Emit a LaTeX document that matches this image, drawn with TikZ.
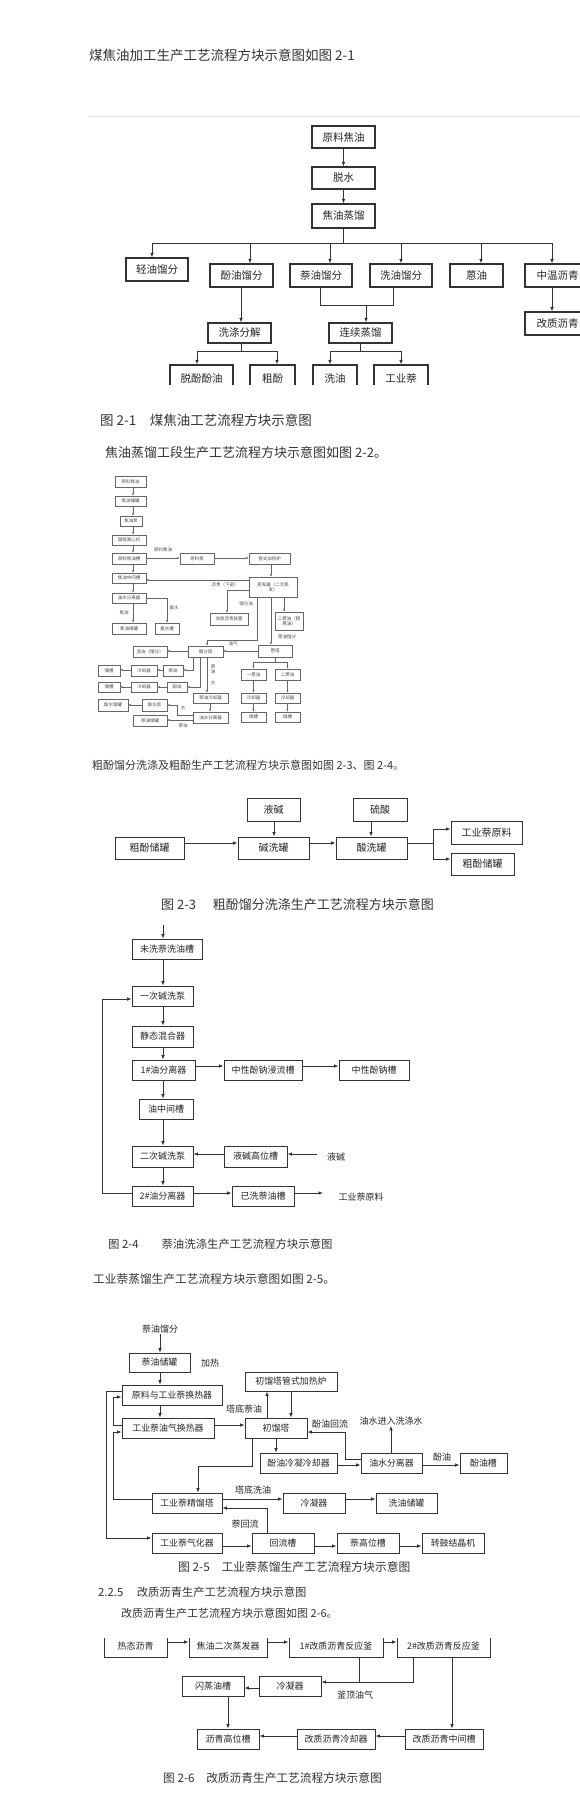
\documentclass[tikz,border=0pt]{standalone}
\usepackage{fontspec}
\setmainfont{Noto Sans CJK SC}
\usetikzlibrary{arrows.meta}
\newcommand\mybox[7]{%
  \pgfmathsetmacro\mbw{#5-#3}\pgfmathsetmacro\mbh{#6-#4}%
  \node[#1, minimum width=\mbw pt, minimum height=\mbh pt] (#2) at ({(#3+#5)/2},{(#4+#6)/2}) {#7};}
\tikzset{
 boxbase/.style={draw=black!80, line width=0.9pt, inner sep=0pt, text=black!85, align=center},
 s21/.style={boxbase, line width=1.1pt, font=\fontsize{10.5}{12}\selectfont},
 s22/.style={boxbase, line width=0.45pt, draw=black!60, text=black!70, font=\fontsize{4.5}{5.2}\selectfont},
 s23/.style={boxbase, line width=1pt, font=\fontsize{10}{12}\selectfont},
 s24/.style={boxbase, font=\fontsize{9}{11}\selectfont},
 s25/.style={boxbase, font=\fontsize{8.9}{11}\selectfont},
 s26/.style={boxbase, font=\fontsize{9}{11}\selectfont},
 lbl/.style={inner sep=0.5pt, text=black!85},
 l22/.style={lbl, text=black!70, font=\fontsize{4.5}{5.2}\selectfont, align=center},
 l24/.style={lbl, font=\fontsize{9}{11}\selectfont},
 hd/.style={anchor=west, inner sep=0pt, text=black!80},
 ln/.style={draw=black!80, line width=0.8pt},
 arr/.style={ln, -{Latex[length=4.5pt,width=3.6pt]}},
 lns/.style={draw=black!60, line width=0.45pt},
 arrs/.style={lns, -{Latex[length=2.4pt,width=2pt]}},
}
\begin{document}
\begin{tikzpicture}[x=1pt,y=-1pt]
\useasboundingbox (0,0) rectangle (580,1800);
\clip (0,0) rectangle (580,1800);
\fill[white] (0,0) rectangle (580,1800);

% ---------- headings ----------
\node[hd, font=\fontsize{13.5}{15}\selectfont] (T1) at (89,55) {煤焦油加工生产工艺流程方块示意图如图 2-1};
\draw[black!12, line width=0.8pt] (88,116) -- (580,116);
\node[hd, font=\fontsize{13.5}{15}\selectfont] (C1) at (100,420) {图 2-1\hspace{1em}煤焦油工艺流程方块示意图};
\node[hd, font=\fontsize{13}{15}\selectfont] (T2) at (105,453) {焦油蒸馏工段生产工艺流程方块示意图如图 2-2。};
\node[hd, font=\fontsize{11}{13}\selectfont] (T3) at (92,765) {粗酚馏分洗涤及粗酚生产工艺流程方块示意图如图 2-3、图 2-4。};
\node[hd, font=\fontsize{13}{15}\selectfont] (C3) at (161,905) {图 2-3\hspace{1.3em}粗酚馏分洗涤生产工艺流程方块示意图};
\node[hd, font=\fontsize{11.4}{13}\selectfont] (C4) at (108,1244) {图 2-4\hspace{2em}萘油洗涤生产工艺流程方块示意图};
\node[hd, font=\fontsize{11.7}{13}\selectfont] (T5) at (93,1279) {工业萘蒸馏生产工艺流程方块示意图如图 2-5。};
\node[hd, font=\fontsize{11.8}{13}\selectfont] (C5) at (178,1567) {图 2-5\hspace{1em}工业萘蒸馏生产工艺流程方块示意图};
\node[hd, font=\fontsize{11.3}{13}\selectfont] (H6) at (98,1592) {2.2.5\hspace{1.2em}改质沥青生产工艺流程方块示意图};
\node[hd, font=\fontsize{11}{13}\selectfont] (T6) at (121,1613) {改质沥青生产工艺流程方块示意图如图 2-6。};
\node[hd, font=\fontsize{11.7}{13}\selectfont] (C6) at (163,1778) {图 2-6\hspace{1em}改质沥青生产工艺流程方块示意图};

% ---------- Fig 2-1 ----------
\mybox{s21}{a1}{312}{126}{375}{148}{原料焦油}
\mybox{s21}{a2}{312}{167}{375}{189}{脱水}
\mybox{s21}{a3}{312}{204}{375}{228}{焦油蒸馏}
\mybox{s21}{b1}{126}{258}{188}{281}{轻油馏分}
\mybox{s21}{b2}{210}{264}{273}{287}{酚油馏分}
\mybox{s21}{b3}{290}{264}{352}{287}{萘油馏分}
\mybox{s21}{b4}{370}{264}{432}{287}{洗油馏分}
\mybox{s21}{b5}{450}{264}{503}{287}{蒽油}
\mybox{s21}{b6}{525}{264}{590}{287}{中温沥青}
\mybox{s21}{c1}{208}{323}{271}{343}{洗涤分解}
\mybox{s21}{c2}{329}{323}{392}{343}{连续蒸馏}
\mybox{s21}{c3}{525}{312}{590}{335}{改质沥青}
\begin{scope}
\clip (0,0) rectangle (580,384);
\mybox{s21}{d1}{170}{365}{233}{392}{脱酚酚油}
\mybox{s21}{d2}{250}{365}{295}{392}{粗酚}
\mybox{s21}{d3}{313}{365}{357}{392}{洗油}
\mybox{s21}{d4}{374}{365}{428}{392}{工业萘}
\end{scope}
\draw[arr] (a1) -- (a2);
\draw[arr] (a2) -- (a3);
\draw[ln] (a3.south) -- (343.5,243);
\draw[ln] (152,243) -- (552,243);
\draw[arr] (152,243) -- (152,0 |- b1.north);
\draw[arr] (250,243) -- (250,0 |- b2.north);
\draw[arr] (330,243) -- (330,0 |- b3.north);
\draw[arr] (401,243) -- (401,0 |- b4.north);
\draw[arr] (481,243) -- (481,0 |- b5.north);
\draw[arr] (552,243) -- (552,0 |- b6.north);
\draw[arr] (241,0 |- b2.south) -- (241,0 |- c1.north);
\draw[ln] (320,0 |- b3.south) |- (393,305) -- (393,0 |- b4.south);
\draw[arr] (366,305) -- (366,0 |- c2.north);
\draw[arr] (552,0 |- b6.south) -- (552,0 |- c3.north);
\draw[ln] (241,0 |- c1.south) -- (241,351);
\draw[ln] (197,351) -- (277,351);
\draw[arr] (197,351) -- (197,0 |- d1.north);
\draw[arr] (277,351) -- (277,0 |- d2.north);
\draw[ln] (360,0 |- c2.south) -- (360,351);
\draw[ln] (330,351) -- (401,351);
\draw[arr] (330,351) -- (330,0 |- d3.north);
\draw[arr] (401,351) -- (401,0 |- d4.north);

% ---------- Fig 2-2 ----------
\mybox{s22}{f1}{115}{476}{146}{487}{原料焦油}
\mybox{s22}{f2}{115}{496}{146}{506}{焦油储罐}
\mybox{s22}{f3}{120}{516}{142}{526}{焦油泵}
\mybox{s22}{f4}{112}{535}{146}{545}{超级离心机}
\mybox{s22}{f5}{112}{553}{146}{564}{原料焦油槽}
\mybox{s22}{f6}{180}{553}{214}{564}{原料泵}
\mybox{s22}{f7}{249}{553}{290}{564}{管式加热炉}
\mybox{s22}{f8}{112}{573}{146}{583}{焦油中间槽}
\mybox{s22}{f9}{249}{577}{297}{597}{蒸发器（二次蒸\\发）}
\mybox{s22}{f10}{112}{593}{146}{603}{油水分离器}
\mybox{s22}{f11}{112}{623}{146}{634}{焦油储罐}
\mybox{s22}{f12}{155}{623}{179}{634}{氨水槽}
\mybox{s22}{f13}{210}{613}{248}{625}{改质沥青装置}
\mybox{s22}{f14}{275}{612}{303}{630}{二蒽油（粗\\蒽油）}
\mybox{s22}{f15}{188}{646}{223}{657}{馏分塔}
\mybox{s22}{f16}{133}{646}{167}{657}{洗油（馏分）}
\mybox{s22}{f17}{258}{645}{292}{657}{蒽塔}
\mybox{s22}{f18}{163}{665}{183}{676}{萘油}
\mybox{s22}{f19}{131}{665}{157}{676}{冷却器}
\mybox{s22}{f20}{98}{665}{120}{676}{储槽}
\mybox{s22}{f21}{167}{682}{187}{692}{酚油}
\mybox{s22}{f22}{131}{682}{157}{692}{冷却器}
\mybox{s22}{f23}{98}{682}{120}{692}{储槽}
\mybox{s22}{f24}{193}{693}{228}{703}{萘油冷却器}
\mybox{s22}{f25}{193}{712}{228}{723}{油水分离器}
\mybox{s22}{f26}{142}{699}{167}{711}{酚水泵}
\mybox{s22}{f27}{98}{699}{128}{711}{酚水储罐}
\mybox{s22}{f28}{133}{715}{167}{726}{萘油储罐}
\mybox{s22}{f29}{241}{669}{266}{680}{一蒽油}
\mybox{s22}{f30}{275}{669}{300}{680}{二蒽油}
\mybox{s22}{f31}{241}{693}{266}{703}{冷却器}
\mybox{s22}{f32}{275}{693}{300}{703}{冷却器}
\mybox{s22}{f33}{241}{712}{266}{722}{储槽}
\mybox{s22}{f34}{275}{712}{300}{722}{储槽}
\node[l22] (g22a) at (163,550) {原料焦油};
\node[l22] (g22b) at (124,613) {焦油};
\node[l22] (g22c) at (174,608) {氨水};
\node[l22] (g22d) at (225,585) {沥青（下部）};
\node[l22] (g22e) at (246,604) {馏分油};
\node[l22] (g22f) at (287,637) {蒽油馏分};
\node[l22] (g22g) at (233,644) {油气};
\node[l22] (g22h) at (213,669) {萘\\油};
\node[l22] (g22i) at (213,683) {水};
\node[l22] (g22j) at (183,708) {水};
\node[l22] (g22k) at (183,726) {萘油};
\draw[arrs] (133,0 |- f1.south) -- (133,0 |- f2.north);
\draw[arrs] (133,0 |- f2.south) -- (133,0 |- f3.north);
\draw[arrs] (133,0 |- f3.south) -- (133,0 |- f4.north);
\draw[arrs] (133,0 |- f4.south) -- (133,0 |- f5.north);
\draw[arrs] (133,0 |- f5.south) -- (133,0 |- f8.north);
\draw[arrs] (133,0 |- f8.south) -- (133,0 |- f10.north);
\draw[arrs] (133,0 |- f10.south) -- (133,0 |- f11.north);
\draw[arrs] (f5.east |- 0,558) -- (f6.west |- 0,558);
\draw[arrs] (f6.east |- 0,558) -- (f7.west |- 0,558);
\draw[arrs] (271,0 |- f7.south) -- (271,0 |- f9.north);
\draw[arrs] (f9.west |- 0,580) -- (f8.east |- 0,580);
\draw[arrs] (f10.east |- 0,598) -| (167,0 |- f12.north);
\draw[arrs] (f9.west |- 0,590) -| (227,0 |- f13.north);
\draw[arrs] (257,0 |- f9.south) |- (207,640) -- (207,0 |- f15.north);
\draw[arrs] (284,0 |- f9.south) -- (284,0 |- f14.north);
\draw[arrs] (271,0 |- f9.south) -- (271,0 |- f17.north);
\draw[arrs] (f17.west |- 0,651) -- (f15.east |- 0,651);
\draw[arrs] (f15.west |- 0,651) -- (f16.east |- 0,651);
\draw[arrs] (193,0 |- f15.south) |- (f18.east |- 0,670);
\draw[arrs] (200,0 |- f15.south) |- (f21.east |- 0,687);
\draw[arrs] (207,0 |- f15.south) -- (207,0 |- f24.north);
\draw[arrs] (f18.west |- 0,670) -- (f19.east |- 0,670);
\draw[arrs] (f19.west |- 0,670) -- (f20.east |- 0,670);
\draw[arrs] (f21.west |- 0,687) -- (f22.east |- 0,687);
\draw[arrs] (f22.west |- 0,687) -- (f23.east |- 0,687);
\draw[arrs] (210,0 |- f24.south) -- (210,0 |- f25.north);
\draw[arrs] (f25.west |- 0,715) -- (177,715) |- (f26.east |- 0,705);
\draw[arrs] (f26.west |- 0,705) -- (f27.east |- 0,705);
\draw[arrs] (f25.west |- 0,720) -- (f28.east |- 0,720);
\draw[lns] (275,0 |- f17.south) -- (275,662);
\draw[lns] (253.5,662) -- (287.5,662);
\draw[arrs] (253.5,662) -- (253.5,0 |- f29.north);
\draw[arrs] (287.5,662) -- (287.5,0 |- f30.north);
\draw[arrs] (253.5,0 |- f29.south) -- (253.5,0 |- f31.north);
\draw[arrs] (287.5,0 |- f30.south) -- (287.5,0 |- f32.north);
\draw[arrs] (253.5,0 |- f31.south) -- (253.5,0 |- f33.north);
\draw[arrs] (287.5,0 |- f32.south) -- (287.5,0 |- f34.north);

% ---------- Fig 2-3 ----------
\mybox{s23}{g1}{247}{798}{300}{821}{液碱}
\mybox{s23}{g2}{353}{798}{407}{821}{硫酸}
\mybox{s23}{g3}{115}{837}{184}{859}{粗酚储罐}
\mybox{s23}{g4}{238}{837}{309}{859}{碱洗罐}
\mybox{s23}{g5}{336}{837}{407}{859}{酸洗罐}
\mybox{s23}{g6}{451}{821}{522}{844}{工业萘原料}
\mybox{s23}{g7}{451}{853}{514}{875}{粗酚储罐}
\draw[arr] (g3.east |- 0,843) -- (g4.west |- 0,843);
\draw[arr] (g4.east |- 0,843) -- (g5.west |- 0,843);
\draw[arr] (274,0 |- g1.south) -- (274,0 |- g4.north);
\draw[arr] (371,0 |- g2.south) -- (371,0 |- g5.north);
\draw[ln] (g5.east |- 0,843) -- (433,843);
\draw[arr] (433,843) |- (g6.west |- 0,829);
\draw[arr] (433,843) |- (g7.west |- 0,859);

% ---------- Fig 2-4 ----------
\mybox{s24}{h1}{132}{939}{202}{959}{未洗萘洗油槽}
\mybox{s24}{h2}{132}{986}{193}{1006}{一次碱洗泵}
\mybox{s24}{h3}{132}{1026}{193}{1047}{静态混合器}
\mybox{s24}{h4}{132}{1060}{195}{1080}{1\#油分离器}
\mybox{s24}{h5}{224}{1060}{302}{1080}{中性酚钠浸流槽}
\mybox{s24}{h6}{339}{1060}{409}{1080}{中性酚钠槽}
\mybox{s24}{h7}{139}{1099}{193}{1119}{油中间槽}
\mybox{s24}{h8}{132}{1146}{193}{1167}{二次碱洗泵}
\mybox{s24}{h9}{224}{1146}{287}{1167}{液碱高位槽}
\node[l24] (h10) at (336,1157) {液碱};
\mybox{s24}{h11}{132}{1186}{193}{1206}{2\#油分离器}
\mybox{s24}{h12}{232}{1186}{294}{1206}{已洗萘油槽}
\node[l24] (h13) at (361,1197) {工业萘原料};
\coordinate (h0) at (163,925);
\coordinate (h10s) at (317,1154);
\coordinate (h13s) at (323,1193);
\draw[arr] (h0) -- (163,0 |- h1.north);
\draw[arr] (163,0 |- h1.south) -- (163,0 |- h2.north);
\draw[arr] (163,0 |- h2.south) -- (163,0 |- h3.north);
\draw[arr] (163,0 |- h3.south) -- (163,0 |- h4.north);
\draw[arr] (163,0 |- h4.south) -- (163,0 |- h7.north);
\draw[arr] (163,0 |- h7.south) -- (163,0 |- h8.north);
\draw[arr] (163,0 |- h8.south) -- (163,0 |- h11.north);
\draw[arr] (h4.east |- 0,1066) -- (h5.west |- 0,1066);
\draw[arr] (h5.east |- 0,1066) -- (h6.west |- 0,1066);
\draw[arr] (h10s) -- (h9.east |- h10s);
\draw[arr] (h9.west |- h10s) -- (h8.east |- h10s);
\draw[arr] (h11.east |- 0,1193) -- (h12.west |- 0,1193);
\draw[arr] (h12.east |- 0,1193) -- (h13s);
\draw[arr] (h11.west |- 0,1193) -- (102,1193) -- (102,999) -- (h2.west |- 0,999);

% ---------- Fig 2-5 ----------
\node[l24] (k0) at (160,1329) {萘油馏分};
\mybox{s25}{k1}{129}{1353}{190}{1372}{萘油储罐}
\node[l24] (kh) at (210,1363) {加热};
\mybox{s25}{k2}{122}{1385}{222}{1405}{原料与工业萘换热器}
\mybox{s25}{k3}{245}{1372}{337}{1391}{初馏塔管式加热炉}
\mybox{s25}{k4}{122}{1418}{214}{1438}{工业萘油气换热器}
\mybox{s25}{k5}{245}{1418}{307}{1438}{初馏塔}
\node[l24] (kl1) at (244,1409) {塔底萘油};
\node[l24] (kl2) at (330,1424) {酚油回流};
\node[l24] (kl3) at (391,1421) {油水进入洗涤水};
\mybox{s25}{k6}{260}{1453}{337}{1473}{酚油冷凝冷却器}
\mybox{s25}{k7}{361}{1453}{422}{1473}{油水分离器}
\node[l24] (kl4) at (442,1457) {酚油};
\mybox{s25}{k8}{460}{1453}{507}{1473}{酚油槽}
\mybox{s25}{k9}{152}{1493}{222}{1513}{工业萘精馏塔}
\node[l24] (kl5) at (253,1490) {塔底洗油};
\mybox{s25}{k10}{283}{1493}{345}{1513}{冷凝器}
\mybox{s25}{k11}{376}{1493}{437}{1513}{洗油储罐}
\node[l24] (kl6) at (245,1524) {萘回流};
\mybox{s25}{k12}{152}{1533}{222}{1553}{工业萘气化器}
\mybox{s25}{k13}{252}{1533}{314}{1553}{回流槽}
\mybox{s25}{k14}{337}{1533}{399}{1553}{萘高位槽}
\mybox{s25}{k15}{422}{1533}{484}{1553}{转鼓结晶机}
\draw[arr] (k0) -- (160,0 |- k1.north);
\draw[arr] (160,0 |- k1.south) -- (160,0 |- k2.north);
\draw[arr] (160,0 |- k2.south) -- (160,0 |- k4.north);
\draw[arr] (k4.east |- 0,1425) -- (k5.west |- 0,1425);
\draw[arr] (267,0 |- k5.north) -- (267,0 |- k3.south);
\draw[arr] (291,0 |- k3.south) -- (291,0 |- k5.north);
\draw[arr] (276,0 |- k5.south) -- (276,0 |- k6.north);
\draw[arr] (k6.east |- 0,1465) -- (k7.west |- 0,1465);
\draw[arr] (391,0 |- k7.north) -- (391,0 |- kl3.south);
\draw[arr] (k7.west |- 0,1459) -- (345,1459) |- (k5.east |- 0,1432);
\draw[arr] (k7.east |- 0,1465) -- (k8.west |- 0,1465);
\draw[arr] (252,0 |- k5.south) |- (198,1466) -- (198,0 |- k9.north);
\draw[arr] (k9.east |- 0,1499) -- (k10.west |- 0,1499);
\draw[arr] (k10.east |- 0,1499) -- (k11.west |- 0,1499);
\draw[arr] (267,0 |- k13.north) |- (k9.east |- 0,1508);
\draw[arr] (k12.east |- 0,1546) -- (k13.west |- 0,1546);
\draw[arr] (k13.east |- 0,1546) -- (k14.west |- 0,1546);
\draw[arr] (k14.east |- 0,1546) -- (k15.west |- 0,1546);
\draw[arr] (k4.west |- 0,1425) -- (113,1425) |- (k2.west |- 0,1397);
\draw[arr] (k9.west |- 0,1499) -- (113,1499) |- (k4.west |- 0,1432);
\draw[arr] (k2.west |- 0,1391) -- (106,1391) |- (k12.west |- 0,1538);

% ---------- Fig 2-6 ----------
\begin{scope}
\clip (0,1638.5) rectangle (580,1800);
\mybox{s26}{m1}{104}{1636}{167}{1657}{热态沥青}
\mybox{s26}{m2}{189}{1636}{267}{1657}{焦油二次蒸发器}
\mybox{s26}{m3}{289}{1636}{383}{1657}{1\#改质沥青反应釜}
\mybox{s26}{m4}{397}{1636}{490}{1657}{2\#改质沥青反应釜}
\end{scope}
\mybox{s26}{m5}{259}{1676}{321}{1696}{冷凝器}
\mybox{s26}{m6}{182}{1676}{244}{1696}{闪蒸油槽}
\node[l24] (ml) at (355,1695) {釜顶油气};
\mybox{s26}{m7}{197}{1729}{259}{1749}{沥青高位槽}
\mybox{s26}{m8}{297}{1729}{375}{1749}{改质沥青冷却器}
\mybox{s26}{m9}{405}{1729}{483}{1749}{改质沥青中间槽}
\draw[arr] (m1.east |- 0,1642) -- (m2.west |- 0,1642);
\draw[arr] (m2.east |- 0,1642) -- (m3.west |- 0,1642);
\draw[arr] (m3.east |- 0,1642) -- (m4.west |- 0,1642);
\draw[ln] (359,0 |- m3.south) -- (359,1682);
\draw[arr] (413,0 |- m4.south) -- (413,1682) -- (m5.east |- 0,1682);
\draw[arr] (m5.west |- 0,1688) -- (m6.east |- 0,1688);
\draw[arr] (228,0 |- m6.south) -- (228,0 |- m7.north);
\draw[arr] (452,0 |- m4.south) -- (452,0 |- m9.north);
\draw[arr] (m9.west |- 0,1736) -- (m8.east |- 0,1736);
\draw[arr] (m8.west |- 0,1736) -- (m7.east |- 0,1736);
\end{tikzpicture}
\end{document}
